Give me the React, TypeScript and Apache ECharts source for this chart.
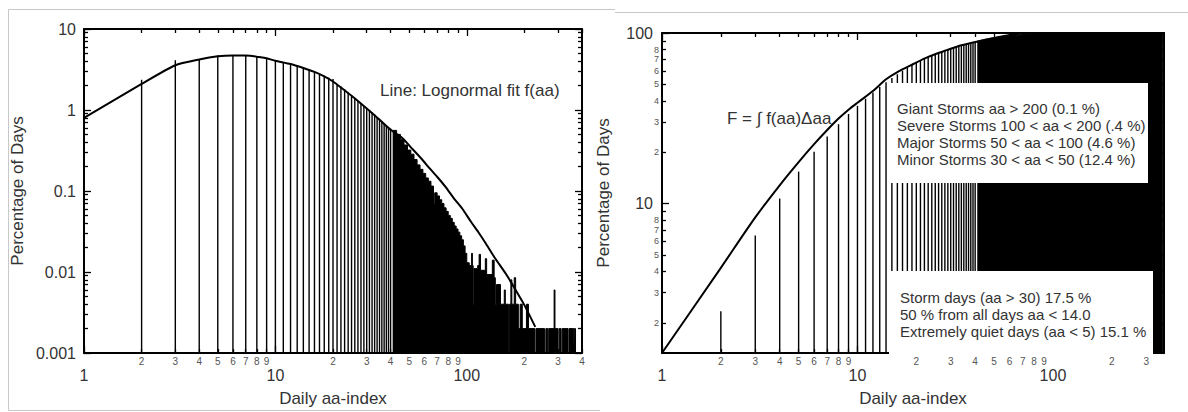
import React, { useEffect, useRef } from 'react';
import * as echarts from 'echarts';

const FONT = "'Liberation Sans', Arial, Helvetica, sans-serif";

// ---------- left panel: distribution of daily aa (percentage of days) ----------
const HIST_AA = [1, 2, 3, 4, 5, 6, 7, 8, 9, 10, 11, 12, 13, 14, 15, 16, 17, 18, 19, 20,
  21, 22, 23, 24, 25, 26, 27, 28, 29, 30, 31, 32, 33, 34, 35, 36, 37, 38, 39, 40];
const HIST_PCT = [0.8, 2.37, 4.1, 4.2, 4.72, 4.75, 4.72, 4.5, 4.3, 4.05, 3.9, 3.7, 3.55, 3.35, 3.2, 2.98, 2.8, 2.65, 2.5, 2.42,
  2.1, 1.95, 1.8, 1.66, 1.52, 1.4, 1.3, 1.2, 1.12, 1.05, 0.99, 0.94, 0.88, 0.82, 0.78, 0.73, 0.69, 0.65, 0.62, 0.59];

// dense part of the histogram (aa > 40), given as runs of equal height
const TAIL_START = [41, 43, 45, 47, 49, 51, 53, 55, 57, 59, 61, 63, 65, 67, 68, 70, 72, 74, 76, 78,
  80, 82, 84, 86, 88, 90, 92, 94, 96, 98, 100, 103, 106, 107, 108, 109, 114, 116, 118, 125,
  127, 136, 139, 141, 143, 150, 157, 159, 167, 170, 172, 177, 180, 186, 190, 195, 205, 210, 230, 259,
  268, 286, 289, 304, 315, 342, 365];
const TAIL_END = [43, 45, 47, 49, 51, 53, 55, 57, 59, 61, 63, 65, 67, 68, 70, 72, 74, 76, 78, 80,
  82, 84, 86, 88, 90, 92, 94, 96, 98, 100, 103, 106, 107, 108, 109, 114, 116, 118, 125, 127,
  136, 139, 141, 143, 150, 157, 159, 165, 170, 172, 177, 180, 186, 190, 195, 205, 210, 227, 255, 265,
  286, 289, 300, 311, 338, 362, 370];
const TAIL_PCT = [0.56, 0.5, 0.43, 0.37, 0.32, 0.285, 0.245, 0.21, 0.185, 0.165, 0.145, 0.132, 0.115, 0.07, 0.095, 0.087, 0.078, 0.07, 0.062, 0.056,
  0.05, 0.046, 0.041, 0.037, 0.034, 0.031, 0.028, 0.025, 0.021, 0.017, 0.013, 0.012, 0.017, 0.012, 0.004, 0.011, 0.012, 0.0165, 0.0105, 0.0146,
  0.0093, 0.014, 0.0085, 0.004, 0.007, 0.004, 0.006, 0.004, 0.004, 0.008, 0.004, 0.0085, 0.004, 0.002, 0.004, 0.002, 0.004, 0.002, 0.002, 0.002,
  0.002, 0.006, 0.002, 0.002, 0.002, 0.002, 0.002];

// lognormal fit f(aa)
const FIT_AA = [1, 2, 3, 4, 5, 6, 7, 8, 9, 10, 12, 14, 16, 18, 20, 22, 25, 28, 31, 35,
  40, 46, 52, 58, 64, 70, 78, 86, 95, 105, 115, 125, 140, 160, 180, 200, 228];
const FIT_PCT = [0.8, 2.1, 3.57, 4.2, 4.6, 4.72, 4.7, 4.55, 4.35, 4.05, 3.7, 3.3, 2.95, 2.6, 2.25, 1.9, 1.5, 1.2, 0.98, 0.76,
  0.57, 0.45, 0.33, 0.25, 0.19, 0.15, 0.11, 0.08, 0.06, 0.042, 0.031, 0.023, 0.015, 0.0095, 0.006, 0.0039, 0.0021];

// ---------- right panel: cumulative distribution ----------
const CUM_AA = [2, 3, 4, 5, 6, 7, 8, 9, 10, 11, 12, 13, 14, 15, 16, 17, 18, 19, 20, 21,
  22, 23, 24, 25, 26, 27, 28, 29, 30, 31, 32, 33, 34, 35, 36, 37, 38, 39, 40];
const CUM_PCT = [2.34, 6.5, 10.7, 15.4, 20.1, 24.7, 29.2, 33.5, 37.4, 41.2, 44.8, 48.2, 51.4, 54.5, 57.3, 60.0, 62.5, 64.9, 67.1, 69.1,
  70.9, 72.4, 73.8, 75.2, 76.5, 77.7, 78.8, 79.9, 81.0, 82.0, 83.0, 84.0, 84.9, 85.7, 86.5, 87.2, 87.9, 88.5, 89.1];
const CUM_TAIL_START = [41, 43, 45, 48, 51, 55, 60, 65, 70, 80, 90, 100, 130, 200];
const CUM_TAIL_END = [43, 45, 48, 51, 55, 60, 65, 70, 80, 90, 100, 130, 200, 363];
const CUM_TAIL_PCT = [89.8, 90.9, 92.0, 93.2, 94.4, 95.7, 96.9, 97.8, 98.5, 99.1, 99.45, 99.7, 99.9, 100];

// F = integral of the fit
const F_AA = [1, 2, 3, 4, 5, 6, 7, 8, 9, 10, 12, 14, 16, 19.3, 23, 28.6, 34, 42.3, 50, 62.6, 75, 85, 100, 370];
const F_PCT = [1.33, 4.2, 8.3, 12.8, 17.5, 22.3, 27, 31.5, 35.5, 39, 45.7, 53.5, 59, 65.8, 72.5, 79.3, 84.8, 89.8, 93.5, 98, 99.4, 99.9, 100, 100];

// ---------- axes ticks / labels ----------
const X_MAJOR = [1, 10, 100];
const XL_MINOR = [2, 3, 4, 5, 6, 7, 8, 9, 20, 30, 40, 50, 60, 70, 80, 90, 200, 300, 400];
const XR_MINOR = [2, 3, 4, 5, 6, 7, 8, 9, 20, 30, 40, 50, 60, 70, 80, 90, 200, 300];
const YL_MAJOR = [0.001, 0.01, 0.1, 1, 10];
const YL_MINOR = [0.002, 0.003, 0.004, 0.005, 0.006, 0.007, 0.008, 0.009,
  0.02, 0.03, 0.04, 0.05, 0.06, 0.07, 0.08, 0.09,
  0.2, 0.3, 0.4, 0.5, 0.6, 0.7, 0.8, 0.9,
  2, 3, 4, 5, 6, 7, 8, 9];
const YR_MAJOR = [10, 100];
const YR_MINOR = [2, 3, 4, 5, 6, 7, 8, 9, 20, 30, 40, 50, 60, 70, 80, 90];
const YR_MINOR_LABELS = [2, 3, 4, 5, 6, 7, 8, 20, 30, 40, 50, 60, 70, 80];

const L_X = [1, 400];
const L_Y = [0.001, 10];
const R_X = [1, 370];
const R_Y = [1.33, 100];

const BOX1 = [
  'Giant Storms aa > 200 (0.1 %)',
  'Severe Storms 100 < aa < 200 (.4 %)',
  'Major Storms 50 < aa < 100 (4.6 %)',
  'Minor Storms 30 < aa < 50 (12.4 %)',
];
const BOX2 = [
  'Storm days (aa > 30) 17.5 %',
  '50 % from all days aa < 14.0',
  'Extremely quiet days (aa < 5) 15.1 %',
];

const digit = (v: number) => {
  const e = Math.floor(Math.log10(v) + 1e-9);
  return String(Math.round(v / Math.pow(10, e)));
};
const num = (v: number) => String(Number(Number(v).toPrecision(6)));

// step-area data: each run holds its height until its end; the floor marks an empty stretch
function stepData(starts: number[], ends: number[], vals: number[], floor: number) {
  const out: number[][] = [];
  for (let i = 0; i < starts.length; i++) {
    out.push([starts[i], vals[i]]);
    if (i === starts.length - 1 || ends[i] !== starts[i + 1]) out.push([ends[i], floor]);
  }
  return out;
}

function axis(grid: number, ext: number[], position: string, ticks: number[], tickLen: number,
  labels: number[] | null, labelOpts: any, showLine: boolean, extra: any = {}) {
  return {
    type: 'log', logBase: 10, gridIndex: grid, min: ext[0], max: ext[1], position,
    axisLine: { show: showLine, onZero: false, lineStyle: { color: '#000', width: 2 } },
    axisTick: { show: true, inside: true, length: tickLen, customValues: ticks, lineStyle: { color: '#000', width: 1.3 } },
    axisLabel: labels ? { show: true, customValues: labels, fontFamily: FONT, ...labelOpts } : { show: false },
    splitLine: { show: false },
    minorTick: { show: false },
    minorSplitLine: { show: false },
    ...extra,
  };
}

const lineBars = (yMin: number) => (_p: any, api: any) => {
  const x = api.value(0);
  const v = api.value(1);
  const a = api.coord([x, yMin]);
  const b = api.coord([x, v]);
  return { type: 'line', shape: { x1: a[0], y1: a[1], x2: b[0], y2: b[1] }, style: { stroke: '#000', lineWidth: 1.4 } };
};

export default function App() {
  const ref = useRef<HTMLDivElement>(null);
  useEffect(() => {
    if (!ref.current) return;
    const chart = echarts.init(ref.current, undefined, { renderer: 'svg' });
    const majorLab = { fontSize: 16, color: '#333' };
    const minorXLab = { fontSize: 10, color: '#555', margin: 3, formatter: digit };
    const nameX = { name: 'Daily aa-index', nameLocation: 'middle', nameGap: 37, nameTextStyle: { fontSize: 17, color: '#333', fontFamily: FONT } };
    const nameY = (gap: number) => ({ name: 'Percentage of Days', nameLocation: 'middle', nameGap: gap, nameTextStyle: { fontSize: 17, color: '#333', fontFamily: FONT } });

    const xAxis = [
      axis(0, L_X, 'bottom', X_MAJOR, 7, X_MAJOR, { ...majorLab, margin: 14, formatter: num }, true, nameX),
      axis(0, L_X, 'bottom', XL_MINOR, 4, XL_MINOR, minorXLab, false),
      axis(0, L_X, 'top', X_MAJOR, 7, null, {}, true),
      axis(0, L_X, 'top', XL_MINOR, 4, null, {}, false),
      axis(1, R_X, 'bottom', X_MAJOR, 7, X_MAJOR, { ...majorLab, margin: 14, formatter: num }, true, nameX),
      axis(1, R_X, 'bottom', XR_MINOR, 4, XR_MINOR, minorXLab, false),
      axis(1, R_X, 'top', X_MAJOR, 7, null, {}, true),
      axis(1, R_X, 'top', XR_MINOR, 4, null, {}, false),
    ];
    const yAxis = [
      axis(0, L_Y, 'left', YL_MAJOR, 7, YL_MAJOR, { ...majorLab, margin: 8, formatter: num }, true, nameY(58)),
      axis(0, L_Y, 'left', YL_MINOR, 4, null, {}, false),
      axis(0, L_Y, 'right', YL_MAJOR, 7, null, {}, true),
      axis(0, L_Y, 'right', YL_MINOR, 4, null, {}, false),
      axis(1, R_Y, 'left', YR_MAJOR, 7, YR_MAJOR, { ...majorLab, margin: 9, formatter: num }, true, nameY(50)),
      axis(1, R_Y, 'left', YR_MINOR, 4, YR_MINOR_LABELS, { fontSize: 9, color: '#555', margin: 3, formatter: digit }, false),
      axis(1, R_Y, 'right', YR_MAJOR, 7, null, {}, true),
      axis(1, R_Y, 'right', YR_MINOR, 4, null, {}, false),
    ];

    const lineStyle = { color: '#000', width: 2 };
    const dense = (name: string, xi: number, data: number[][]) => ({
      type: 'line', name, xAxisIndex: xi, yAxisIndex: xi, data, step: 'end', symbol: 'none',
      lineStyle: { color: '#000', width: 1 }, areaStyle: { color: '#000', opacity: 1, origin: 'start' }, z: 2,
    });
    const option: any = {
      animation: false,
      backgroundColor: '#fff',
      textStyle: { fontFamily: FONT },
      grid: [
        { left: 84, top: 29, width: 498, height: 331 },
        { left: 662, top: 33, width: 502, height: 330 },
      ],
      xAxis,
      yAxis,
      series: [
        {
          type: 'custom', name: 'days', xAxisIndex: 0, yAxisIndex: 0,
          data: HIST_AA.map((a, i) => [a, HIST_PCT[i]]),
          encode: { x: 0, y: 1 }, renderItem: lineBars(L_Y[0]), z: 2,
        },
        dense('days dense', 0, stepData(TAIL_START, TAIL_END, TAIL_PCT, L_Y[0])),
        {
          type: 'line', name: 'fit', xAxisIndex: 0, yAxisIndex: 0,
          data: FIT_AA.map((a, i) => [a, FIT_PCT[i]]),
          symbol: 'none', smooth: 0.2, lineStyle, z: 5,
        },
        {
          type: 'custom', name: 'cum', xAxisIndex: 4, yAxisIndex: 4,
          data: CUM_AA.map((a, i) => [a, CUM_PCT[i]]),
          encode: { x: 0, y: 1 }, renderItem: lineBars(R_Y[0]), z: 2,
        },
        dense('cum dense', 4, stepData(CUM_TAIL_START, CUM_TAIL_END, CUM_TAIL_PCT, R_Y[0])),
        {
          type: 'line', name: 'F', xAxisIndex: 4, yAxisIndex: 4,
          data: F_AA.map((a, i) => [a, F_PCT[i]]),
          symbol: 'none', smooth: 0.3, lineStyle, z: 5,
        },
      ],
      graphic: [
        { type: 'line', shape: { x1: 8.5, y1: 9.5, x2: 615, y2: 9.5 }, style: { stroke: '#c8c8c8', lineWidth: 1 } },
        { type: 'line', shape: { x1: 615, y1: 12.5, x2: 1188, y2: 12.5 }, style: { stroke: '#c8c8c8', lineWidth: 1 } },
        { type: 'line', shape: { x1: 8.5, y1: 9.5, x2: 8.5, y2: 410.5 }, style: { stroke: '#c8c8c8', lineWidth: 1 } },
        { type: 'line', shape: { x1: 8.5, y1: 410.5, x2: 600, y2: 410.5 }, style: { stroke: '#c8c8c8', lineWidth: 1 } },
        {
          type: 'text', x: 380, y: 90, z: 20,
          style: { text: 'Line: Lognormal fit f(aa)', fontSize: 17, fontFamily: FONT, fill: '#333', verticalAlign: 'middle' },
        },
        {
          type: 'text', x: 727, y: 118, z: 20,
          style: { text: 'F = \u222B f(aa)\u0394aa', fontSize: 17, fontFamily: FONT, fill: '#333', verticalAlign: 'middle' },
        },
        { type: 'rect', z: 20, shape: { x: 889, y: 83, width: 259, height: 100 }, style: { fill: '#fff' } },
        {
          type: 'text', x: 897, y: 100, z: 21,
          style: { text: BOX1.join('\n'), fontSize: 15, lineHeight: 17, fontFamily: FONT, fill: '#333', verticalAlign: 'top' },
        },
        { type: 'rect', z: 20, shape: { x: 889, y: 271, width: 264, height: 84 }, style: { fill: '#fff' } },
        {
          type: 'text', x: 900, y: 289, z: 21,
          style: { text: BOX2.join('\n'), fontSize: 15, lineHeight: 17, fontFamily: FONT, fill: '#333', verticalAlign: 'top' },
        },
      ],
    };
    chart.setOption(option);
    return () => chart.dispose();
  }, []);
  return <div ref={ref} style={{ position: 'fixed', left: 0, top: 0, width: 1188, height: 412, background: '#fff' }} />;
}
